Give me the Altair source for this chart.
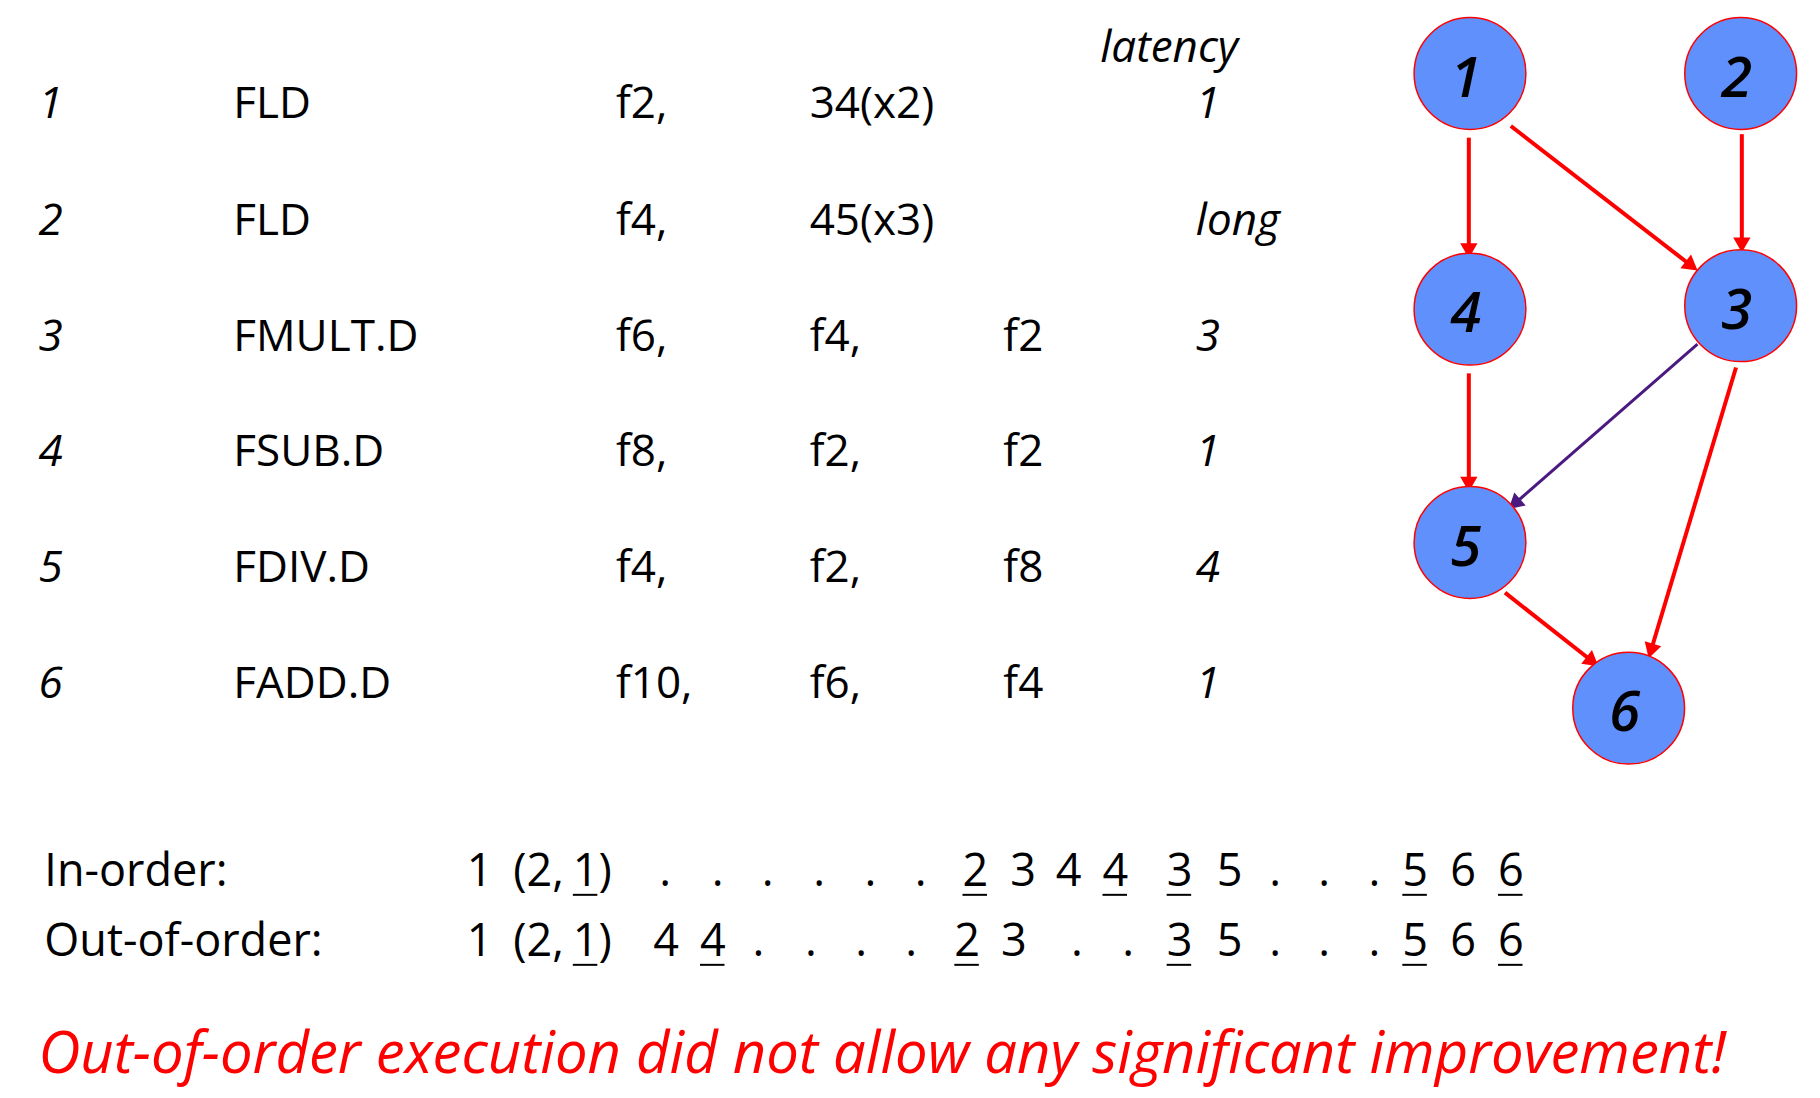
import math
import altair as alt
import pandas as pd

S = 1820 / 1560  # reference layout was measured on a 1560-wide view
FONT = "Open Sans"

# --- instruction table ---
row_no = ["1", "2", "3", "4", "5", "6"]
instr = ["FLD", "FLD", "FMULT.D", "FSUB.D", "FDIV.D", "FADD.D"]
op1 = ["f2,", "f4,", "f6,", "f8,", "f4,", "f10,"]
op2 = ["34(x2)", "45(x3)", "f4,", "f2,", "f2,", "f6,"]
op3 = ["", "", "f2", "f2", "f8", "f4"]
latency = ["1", "long", "3", "1", "4", "1"]
row_y = [90, 190, 290, 388, 488, 587]

# --- dependency graph ---
node_id = ["1", "2", "3", "4", "5", "6"]
node_x = [1260, 1492, 1492, 1260, 1260, 1396]
node_y = [63, 63, 262, 265, 465, 607]
edge_x1 = [1259, 1295, 1493, 1259, 1455, 1488, 1290]
edge_y1 = [118, 108, 115, 320, 295, 315, 508]
edge_x2 = [1259, 1450, 1493, 1259, 1298, 1415, 1365]
edge_y2 = [215, 228, 210, 415, 432, 558, 567]
edge_col = ["#ff0000", "#ff0000", "#ff0000", "#ff0000", "#4b1a80", "#ff0000", "#ff0000"]
edge_w = [4, 4, 4, 4, 3, 4, 4]

# --- schedules ---
in_tok = ["1", "(2,", "1", ")", ".", ".", ".", ".", ".", ".", "2", "3", "4", "4",
          "3", "5", ".", ".", ".", "5", "6", "6"]
in_x = [400, 440, 491, 513, 565, 610, 653, 697, 741, 784, 825, 866, 905, 945,
        1000, 1043, 1088, 1130, 1173, 1202, 1243, 1284]
in_ul = [0, 0, 1, 0, 0, 0, 0, 0, 0, 0, 1, 0, 0, 1, 1, 0, 0, 0, 0, 1, 0, 1]
out_tok = ["1", "(2,", "1", ")", "4", "4", ".", ".", ".", ".", "2", "3", ".", ".",
           "3", "5", ".", ".", ".", "5", "6", "6"]
out_x = [400, 440, 491, 513, 560, 600, 645, 690, 733, 776, 818, 858, 918, 962,
         1000, 1043, 1088, 1130, 1173, 1202, 1243, 1284]
out_ul = [0, 0, 1, 0, 0, 1, 0, 0, 0, 0, 1, 0, 0, 0, 1, 0, 0, 0, 0, 1, 0, 1]

W, H = 1804, 1082
xs = alt.Scale(domain=[8, 8 + W])
ys = alt.Scale(domain=[8 + H, 8])


def txt(df, size, italic=False, color="black"):
    return alt.Chart(df).mark_text(
        align="left", baseline="middle", font=FONT, fontSize=size,
        fontStyle="italic" if italic else "normal", color=color
    ).encode(
        x=alt.X("x:Q", scale=xs, axis=None),
        y=alt.Y("y:Q", scale=ys, axis=None),
        text="t:N",
    )


def cols(vals, x):
    return pd.DataFrame({"t": vals, "x": [x * S] * len(vals), "y": [v * S for v in row_y]})


layers = []
layers.append(txt(cols(row_no, 33), 44, True))
layers.append(txt(cols(instr, 200), 44))
layers.append(txt(cols(op1, 528), 44))
layers.append(txt(cols(op2, 694), 44))
layers.append(txt(cols(op3, 860), 44))
layers.append(txt(cols(latency, 1025), 44, True))
layers.append(txt(pd.DataFrame({"t": ["latency"], "x": [943 * S], "y": [42 * S]}), 44, True))

# schedules
sched = pd.DataFrame({
    "t": ["In-order:", "Out-of-order:"] + in_tok + out_tok,
    "x": [38 * S, 38 * S] + [v * S for v in in_x] + [v * S for v in out_x],
    "y": [747 * S, 807 * S] + [747 * S] * len(in_tok) + [807 * S] * len(out_tok),
})
layers.append(txt(sched, 45))
ul = pd.DataFrame({
    "x": [v * S for v, u in zip(in_x, in_ul) if u] + [v * S for v, u in zip(out_x, out_ul) if u],
    "y": [767 * S for u in in_ul if u] + [827 * S for u in out_ul if u],
})
ul["x2"] = ul["x"] + 21 * S
layers.append(alt.Chart(ul).mark_rule(color="black", strokeWidth=2).encode(
    x=alt.X("x:Q", scale=xs, axis=None), x2="x2:Q",
    y=alt.Y("y:Q", scale=ys, axis=None)))

layers.append(txt(pd.DataFrame({
    "t": ["Out-of-order execution did not allow any significant improvement!"],
    "x": [33 * S], "y": [905 * S]}), 58, True, "#ff0000"))

# edges with arrow heads
edges = pd.DataFrame({
    "x": [v * S for v in edge_x1], "y": [v * S for v in edge_y1],
    "x2": [v * S for v in edge_x2], "y2": [v * S for v in edge_y2],
    "c": edge_col, "w": edge_w,
})
edges["ang"] = [
    math.degrees(math.atan2(x2 - x1, -(y2 - y1))) % 360
    for x1, y1, x2, y2 in zip(edge_x1, edge_y1, edge_x2, edge_y2)
]
layers.append(alt.Chart(edges).mark_rule().encode(
    x=alt.X("x:Q", scale=xs, axis=None), x2="x2:Q",
    y=alt.Y("y:Q", scale=ys, axis=None), y2="y2:Q",
    strokeWidth=alt.StrokeWidth("w:Q", scale=None),
    color=alt.Color("c:N", scale=None)))
layers.append(alt.Chart(edges).mark_point(shape="triangle-up", filled=True, size=300, opacity=1).encode(
    x=alt.X("x2:Q", scale=xs, axis=None),
    y=alt.Y("y2:Q", scale=ys, axis=None),
    angle=alt.Angle("ang:Q", scale=None),
    color=alt.Color("c:N", scale=None)))

nodes = pd.DataFrame({"t": node_id, "x": [v * S for v in node_x], "y": [v * S for v in node_y]})
layers.append(alt.Chart(nodes).mark_point(
    shape="circle", filled=True, size=12500, fill="#6090fc", stroke="#ff0000",
    strokeWidth=1.5, opacity=1).encode(
    x=alt.X("x:Q", scale=xs, axis=None), y=alt.Y("y:Q", scale=ys, axis=None)))
layers.append(alt.Chart(nodes).mark_text(
    align="center", baseline="middle", font=FONT, fontSize=56, fontStyle="italic",
    fontWeight=600, color="black", dy=6, dx=-4).encode(
    x=alt.X("x:Q", scale=xs, axis=None), y=alt.Y("y:Q", scale=ys, axis=None), text="t:N"))

chart = alt.layer(*layers).properties(width=W, height=H, padding=0).configure_view(stroke=None)
chart.save("out.html", embed_options={"renderer": "svg", "actions": False})
